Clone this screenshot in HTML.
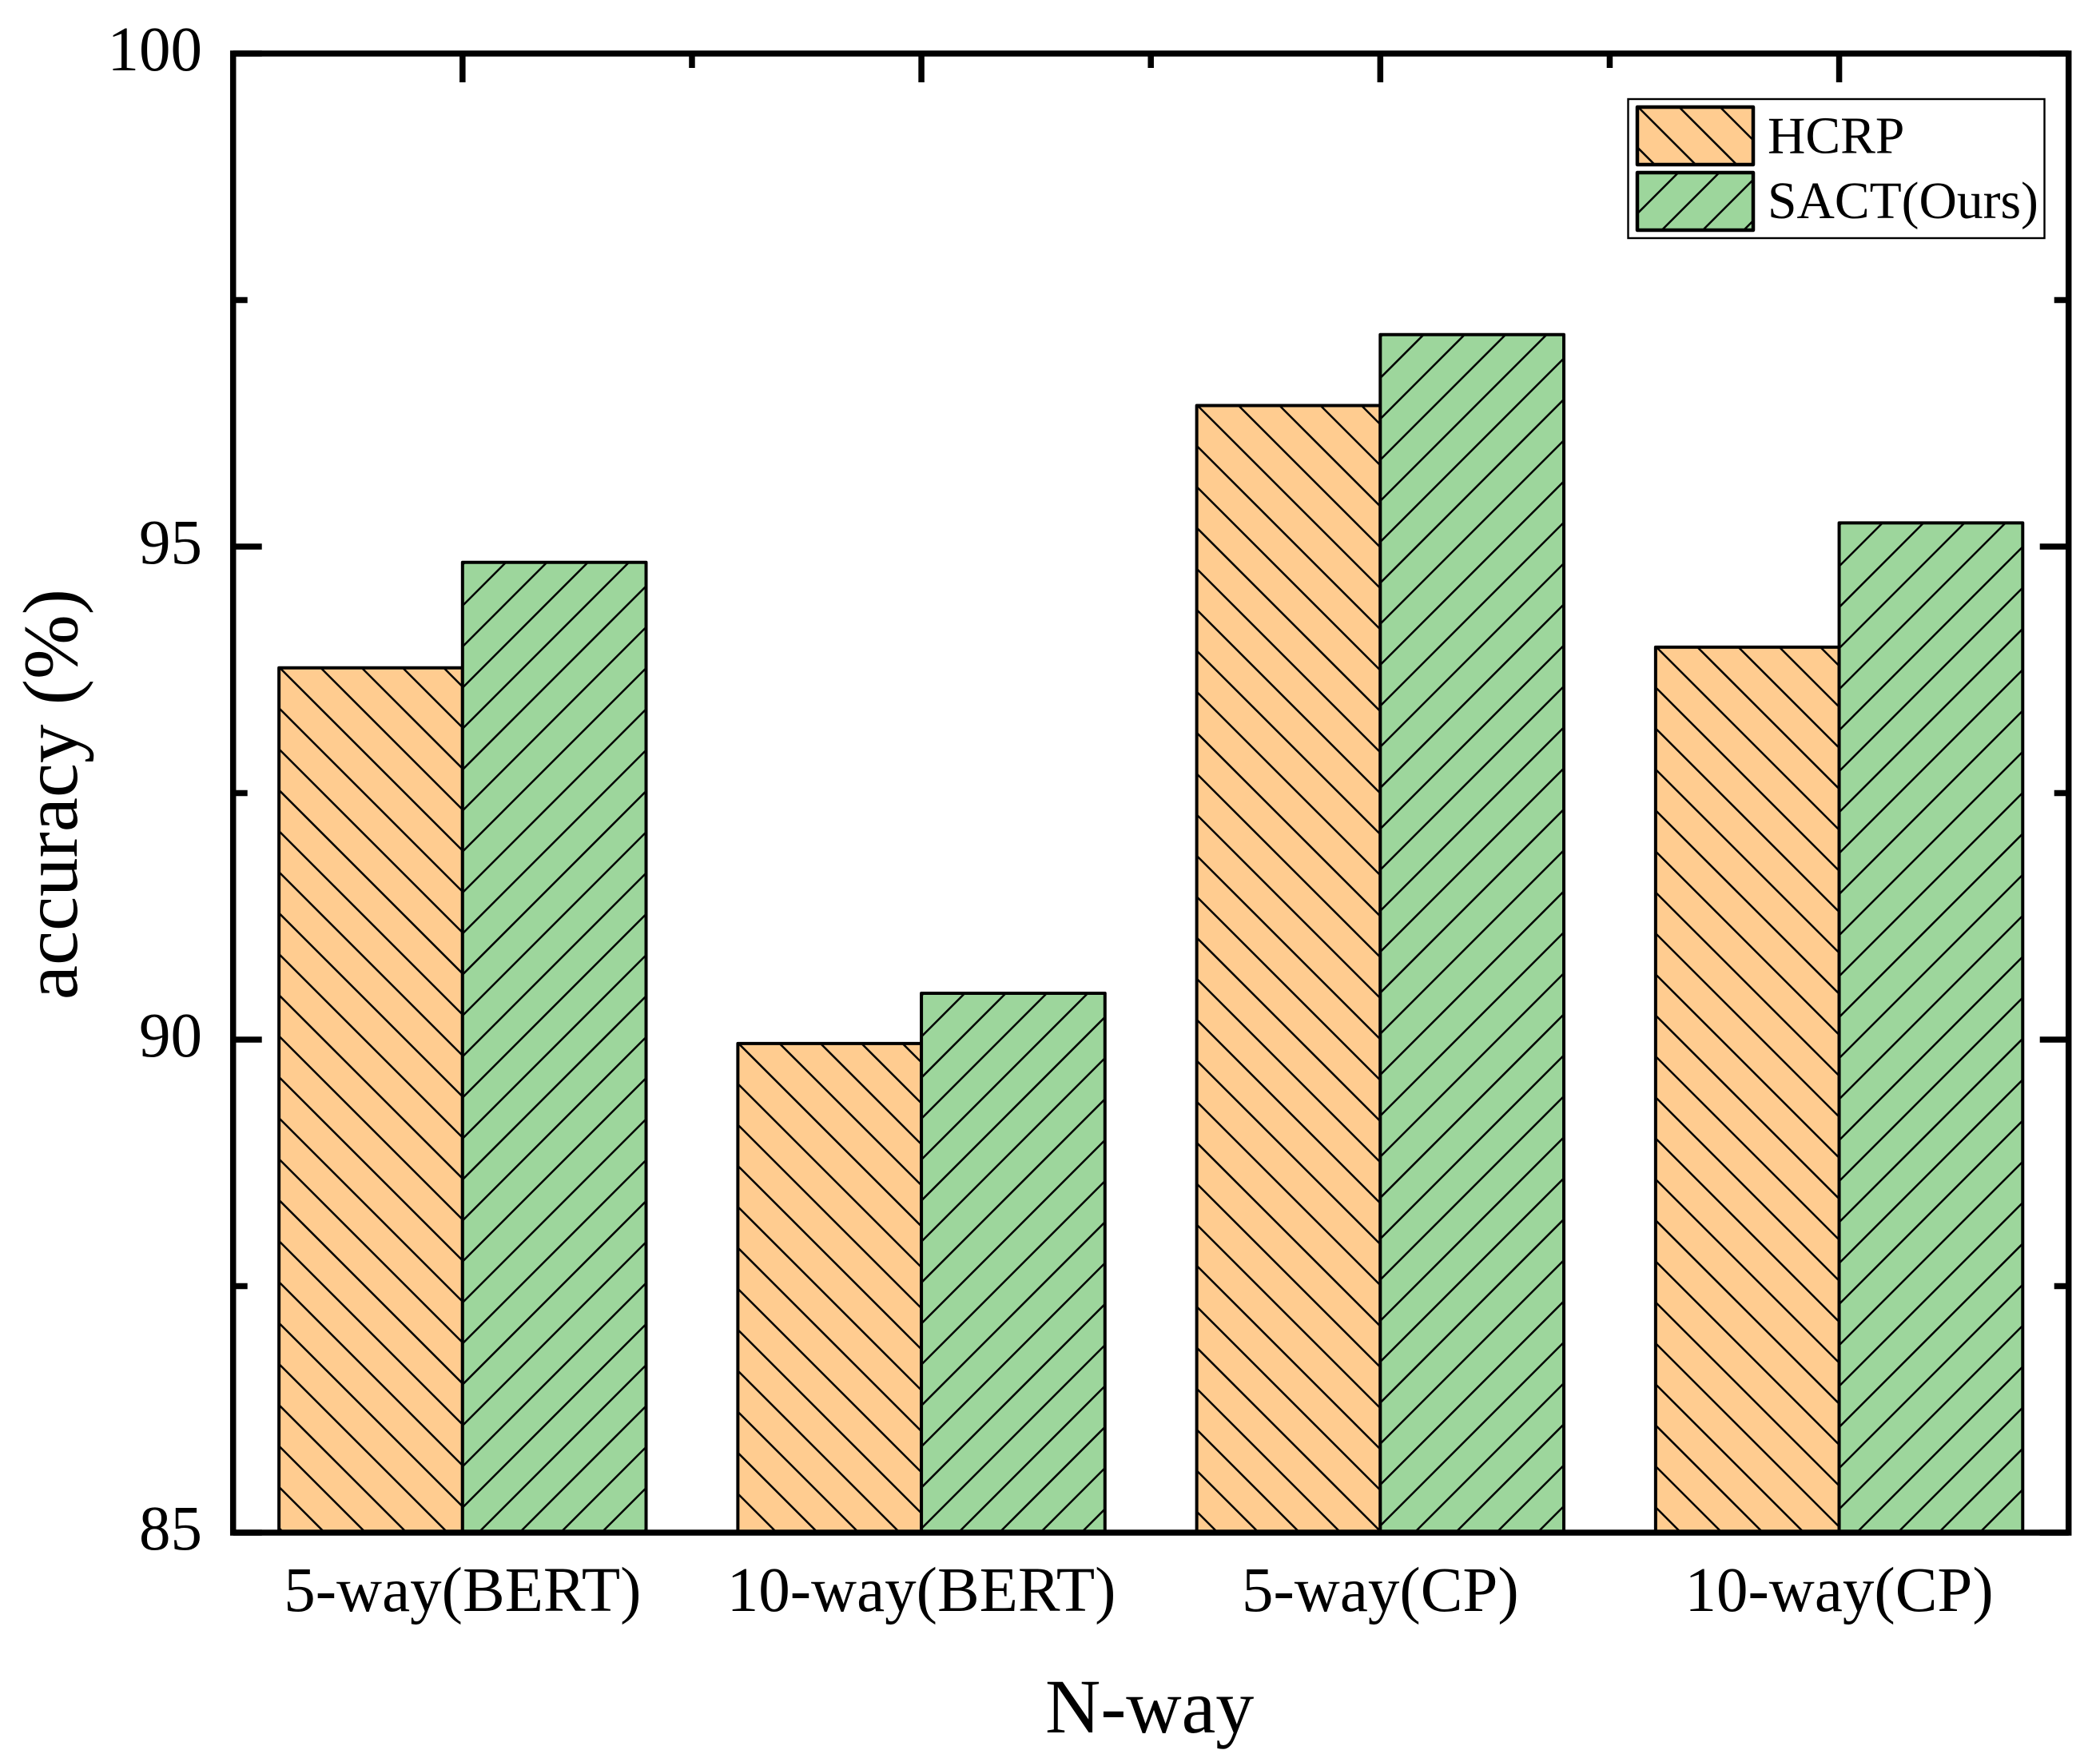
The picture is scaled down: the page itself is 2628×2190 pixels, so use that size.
<!DOCTYPE html>
<html lang="en">
<head>
<meta charset="utf-8">
<title>Accuracy by N-way</title>
<style>
html,body{margin:0;padding:0;background:#fff;}
body{width:2628px;height:2190px;overflow:hidden;}
svg{display:block;}
text{font-family:"Liberation Serif",serif;fill:#000;}
</style>
</head>
<body>
<svg id="chart" xmlns="http://www.w3.org/2000/svg" width="2628" height="2190" viewBox="0 0 2628 2190">
  <rect x="0" y="0" width="2628" height="2190" fill="#ffffff"/>
  <defs id="defs"></defs>
  <g id="bars"></g>
  <g id="ticks"></g>
  <rect x="291.7" y="67" width="2297" height="1851" fill="none" stroke="#000" stroke-width="7.5"/>
  <g id="tick-labels"></g>
  <text x="1308" y="2168" font-size="96">N-way</text>
  <text transform="translate(96,994) rotate(-90)" text-anchor="middle" font-size="97">accuracy (%)</text>
  <g id="legend">
    <rect x="2037.5" y="124" width="521" height="174" fill="#fff" stroke="#000" stroke-width="2.4"/>
    <text x="2212" y="191.5" font-size="65.6">HCRP</text>
    <text x="2212" y="273" font-size="65.6">SACT(Ours)</text>
  </g>
</svg>
<script>
const categories = ["5-way(BERT)", "10-way(BERT)", "5-way(CP)", "10-way(CP)"];
const hcrpValues = [93.77, 89.96, 96.43, 93.98];
const sactValues = [94.84, 90.47, 97.15, 95.24];
const yMajorTicks = [85, 90, 95, 100];
const yMinorTicks = [87.5, 92.5, 97.5];
const yDomain = [85, 100];

const NS = "http://www.w3.org/2000/svg";
const plotLeft = 291.7, plotRight = 2588.7, plotTop = 67, plotBottom = 1918;
const step = (plotRight - plotLeft) / categories.length;
const barWidth = step * 0.4;
const hatchPeriod = 51.3;
const orange = "#FFCC90", green = "#9DD69C";

function xScale(i) { return plotLeft + (i + 0.5) * step; }
function yScale(v) { return plotBottom - (v - yDomain[0]) / (yDomain[1] - yDomain[0]) * (plotBottom - plotTop); }
function make(tag, attrs, parent) {
  const el = document.createElementNS(NS, tag);
  for (const k in attrs) el.setAttribute(k, attrs[k]);
  parent.appendChild(el);
  return el;
}

let clipCount = 0;
function hatchedBox(parent, x, y, w, h, fill, dir, phase, strokeW, hatchW, name) {
  const id = "clip" + (clipCount++);
  const clip = make("clipPath", { id: id }, document.getElementById("defs"));
  make("rect", { x: x, y: y, width: w, height: h }, clip);
  const group = make("g", {}, parent);
  
  
  make("rect", { x: x, y: y, width: w, height: h, fill: fill }, group);
  const lines = make("g", { "clip-path": "url(#" + id + ")", stroke: "#000", "stroke-width": hatchW }, group);
  const L = w + h;
  const n = Math.ceil(L / hatchPeriod) + 1;
  for (let k = -n; k <= n; k++) {
    const sx = x + k * hatchPeriod + phase;
    const ex = dir > 0 ? sx + L : sx - L;
    make("line", { x1: sx, y1: y, x2: ex, y2: y + L }, lines);
  }
  make("rect", { x: x, y: y, width: w, height: h, fill: "none", stroke: "#000", "stroke-width": strokeW, "stroke-linejoin": "round" }, group);
}

const barsG = document.getElementById("bars");
categories.forEach(function (c, i) {
  const cx = xScale(i);
  const yH = yScale(hcrpValues[i]);
  hatchedBox(barsG, cx - barWidth, yH, barWidth, plotBottom - yH, orange, 1, 1, 4, 2.5, "bar-hcrp-" + i);
});
categories.forEach(function (c, i) {
  const cx = xScale(i);
  const yS = yScale(sactValues[i]);
  hatchedBox(barsG, cx, yS, barWidth, plotBottom - yS, green, -1, 3, 4, 2.5, "bar-sact-" + i);
});

const ticksG = document.getElementById("ticks");
const majorLen = 36, minorLen = 18, tickW = 7.5;
function tick(x1, y1, x2, y2, name) {
  const t = make("line", { x1: x1, y1: y1, x2: x2, y2: y2, stroke: "#000", "stroke-width": tickW }, ticksG);
  
  
}
yMajorTicks.forEach(function (v) {
  const y = yScale(v);
  tick(plotLeft, y, plotLeft + majorLen, y, "y-major-tick-left");
  tick(plotRight, y, plotRight - majorLen, y, "y-major-tick-right");
});
yMinorTicks.forEach(function (v) {
  const y = yScale(v);
  tick(plotLeft, y, plotLeft + minorLen, y, "y-minor-tick-left");
  tick(plotRight, y, plotRight - minorLen, y, "y-minor-tick-right");
});
categories.forEach(function (c, i) {
  tick(xScale(i), plotTop, xScale(i), plotTop + majorLen, "x-major-tick-top");
  if (i < categories.length - 1) {
    tick(xScale(i + 0.5), plotTop, xScale(i + 0.5), plotTop + minorLen, "x-minor-tick-top");
  }
});

const labelsG = document.getElementById("tick-labels");
yMajorTicks.forEach(function (v) {
  const t = make("text", { x: 253, y: yScale(v) + 21, "text-anchor": "end", "font-size": 79 }, labelsG);
  
  
  t.textContent = String(v);
});
categories.forEach(function (c, i) {
  const t = make("text", { x: xScale(i), y: 2016, "text-anchor": "middle", "font-size": 79 }, labelsG);
  
  
  t.textContent = c;
});

const legendG = document.getElementById("legend");
hatchedBox(legendG, 2049, 134, 145, 72, orange, 1, 1, 4.5, 2.5, "legend-swatch-hcrp");
hatchedBox(legendG, 2049, 216, 145, 72, green, -1, 0, 4.5, 2.5, "legend-swatch-sact");
</script>
</body>
</html>
